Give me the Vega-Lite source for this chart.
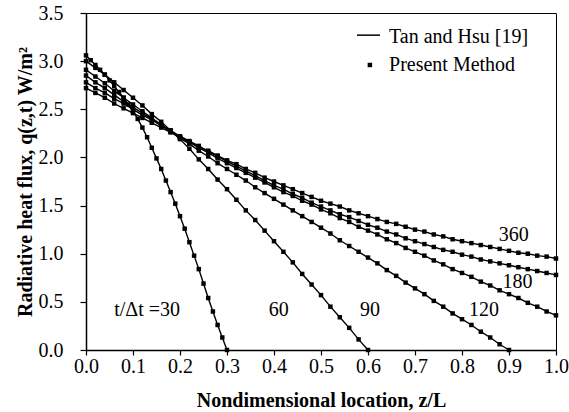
{
  "$schema": "https://vega.github.io/schema/vega-lite/v6.json",
  "width": 470,
  "height": 337,
  "autosize": "none",
  "padding": {"left": 86, "top": 13, "right": 13, "bottom": 62},
  "background": "white",
  "config": {
    "view": {"stroke": "black", "strokeWidth": 1},
    "font": "Liberation Serif",
    "axis": {
      "grid": false,
      "domainColor": "black",
      "domainWidth": 1.5,
      "tickColor": "black",
      "tickWidth": 1.2,
      "labelColor": "black",
      "labelFont": "Liberation Serif",
      "labelFontSize": 20,
      "titleColor": "black",
      "titleFont": "Liberation Serif",
      "titleFontSize": 20,
      "titleFontWeight": "bold"
    }
  },
  "datasets": {
    "flux": [
      {"t":"30","z":0,"q":3.06},{"t":"30","z":0.01,"q":3.01},{"t":"30","z":0.02,"q":2.96},{"t":"30","z":0.03,"q":2.91},{"t":"30","z":0.04,"q":2.86},{"t":"30","z":0.05,"q":2.80},{"t":"30","z":0.06,"q":2.74},{"t":"30","z":0.07,"q":2.68},{"t":"30","z":0.08,"q":2.62},{"t":"30","z":0.09,"q":2.55},{"t":"30","z":0.10,"q":2.48},{"t":"30","z":0.11,"q":2.40},{"t":"30","z":0.12,"q":2.31},{"t":"30","z":0.13,"q":2.21},{"t":"30","z":0.14,"q":2.10},{"t":"30","z":0.15,"q":1.99},{"t":"30","z":0.16,"q":1.88},{"t":"30","z":0.17,"q":1.76},{"t":"30","z":0.18,"q":1.64},{"t":"30","z":0.19,"q":1.52},{"t":"30","z":0.20,"q":1.39},{"t":"30","z":0.21,"q":1.26},{"t":"30","z":0.22,"q":1.12},{"t":"30","z":0.23,"q":0.98},{"t":"30","z":0.24,"q":0.84},{"t":"30","z":0.25,"q":0.69},{"t":"30","z":0.26,"q":0.54},{"t":"30","z":0.27,"q":0.40},{"t":"30","z":0.28,"q":0.26},{"t":"30","z":0.29,"q":0.13},{"t":"30","z":0.30,"q":0},
      {"t":"60","z":0,"q":3.00},{"t":"60","z":0.02,"q":2.93},{"t":"60","z":0.04,"q":2.86},{"t":"60","z":0.06,"q":2.78},{"t":"60","z":0.08,"q":2.70},{"t":"60","z":0.10,"q":2.62},{"t":"60","z":0.12,"q":2.54},{"t":"60","z":0.14,"q":2.45},{"t":"60","z":0.16,"q":2.37},{"t":"60","z":0.18,"q":2.28},{"t":"60","z":0.20,"q":2.19},{"t":"60","z":0.22,"q":2.09},{"t":"60","z":0.24,"q":1.98},{"t":"60","z":0.26,"q":1.88},{"t":"60","z":0.28,"q":1.77},{"t":"60","z":0.30,"q":1.67},{"t":"60","z":0.32,"q":1.56},{"t":"60","z":0.34,"q":1.45},{"t":"60","z":0.36,"q":1.35},{"t":"60","z":0.38,"q":1.24},{"t":"60","z":0.40,"q":1.13},{"t":"60","z":0.42,"q":1.02},{"t":"60","z":0.44,"q":0.91},{"t":"60","z":0.46,"q":0.79},{"t":"60","z":0.48,"q":0.68},{"t":"60","z":0.50,"q":0.57},{"t":"60","z":0.52,"q":0.45},{"t":"60","z":0.54,"q":0.34},{"t":"60","z":0.56,"q":0.23},{"t":"60","z":0.58,"q":0.11},{"t":"60","z":0.60,"q":0},
      {"t":"90","z":0,"q":2.91},{"t":"90","z":0.02,"q":2.84},{"t":"90","z":0.04,"q":2.77},{"t":"90","z":0.06,"q":2.69},{"t":"90","z":0.08,"q":2.62},{"t":"90","z":0.10,"q":2.55},{"t":"90","z":0.12,"q":2.48},{"t":"90","z":0.14,"q":2.41},{"t":"90","z":0.16,"q":2.34},{"t":"90","z":0.18,"q":2.27},{"t":"90","z":0.20,"q":2.20},{"t":"90","z":0.22,"q":2.14},{"t":"90","z":0.24,"q":2.07},{"t":"90","z":0.26,"q":2.01},{"t":"90","z":0.28,"q":1.94},{"t":"90","z":0.30,"q":1.88},{"t":"90","z":0.32,"q":1.82},{"t":"90","z":0.34,"q":1.76},{"t":"90","z":0.36,"q":1.69},{"t":"90","z":0.38,"q":1.63},{"t":"90","z":0.40,"q":1.57},{"t":"90","z":0.42,"q":1.51},{"t":"90","z":0.44,"q":1.45},{"t":"90","z":0.46,"q":1.39},{"t":"90","z":0.48,"q":1.33},{"t":"90","z":0.50,"q":1.27},{"t":"90","z":0.52,"q":1.21},{"t":"90","z":0.54,"q":1.14},{"t":"90","z":0.56,"q":1.08},{"t":"90","z":0.58,"q":1.02},{"t":"90","z":0.60,"q":0.96},{"t":"90","z":0.62,"q":0.90},{"t":"90","z":0.64,"q":0.83},{"t":"90","z":0.66,"q":0.77},{"t":"90","z":0.68,"q":0.70},{"t":"90","z":0.70,"q":0.64},{"t":"90","z":0.72,"q":0.58},{"t":"90","z":0.74,"q":0.51},{"t":"90","z":0.76,"q":0.45},{"t":"90","z":0.78,"q":0.38},{"t":"90","z":0.80,"q":0.32},{"t":"90","z":0.82,"q":0.26},{"t":"90","z":0.84,"q":0.19},{"t":"90","z":0.86,"q":0.13},{"t":"90","z":0.88,"q":0.06},{"t":"90","z":0.90,"q":0},
      {"t":"120","z":0,"q":2.85},{"t":"120","z":0.02,"q":2.78},{"t":"120","z":0.04,"q":2.72},{"t":"120","z":0.06,"q":2.65},{"t":"120","z":0.08,"q":2.58},{"t":"120","z":0.10,"q":2.52},{"t":"120","z":0.12,"q":2.46},{"t":"120","z":0.14,"q":2.40},{"t":"120","z":0.16,"q":2.33},{"t":"120","z":0.18,"q":2.27},{"t":"120","z":0.20,"q":2.21},{"t":"120","z":0.22,"q":2.16},{"t":"120","z":0.24,"q":2.10},{"t":"120","z":0.26,"q":2.05},{"t":"120","z":0.28,"q":1.99},{"t":"120","z":0.30,"q":1.94},{"t":"120","z":0.32,"q":1.89},{"t":"120","z":0.34,"q":1.84},{"t":"120","z":0.36,"q":1.79},{"t":"120","z":0.38,"q":1.74},{"t":"120","z":0.40,"q":1.69},{"t":"120","z":0.42,"q":1.64},{"t":"120","z":0.44,"q":1.60},{"t":"120","z":0.46,"q":1.55},{"t":"120","z":0.48,"q":1.51},{"t":"120","z":0.50,"q":1.46},{"t":"120","z":0.52,"q":1.42},{"t":"120","z":0.54,"q":1.37},{"t":"120","z":0.56,"q":1.33},{"t":"120","z":0.58,"q":1.28},{"t":"120","z":0.60,"q":1.24},{"t":"120","z":0.62,"q":1.20},{"t":"120","z":0.64,"q":1.15},{"t":"120","z":0.66,"q":1.11},{"t":"120","z":0.68,"q":1.06},{"t":"120","z":0.70,"q":1.02},{"t":"120","z":0.72,"q":0.98},{"t":"120","z":0.74,"q":0.93},{"t":"120","z":0.76,"q":0.89},{"t":"120","z":0.78,"q":0.84},{"t":"120","z":0.80,"q":0.80},{"t":"120","z":0.82,"q":0.76},{"t":"120","z":0.84,"q":0.71},{"t":"120","z":0.86,"q":0.67},{"t":"120","z":0.88,"q":0.62},{"t":"120","z":0.90,"q":0.58},{"t":"120","z":0.92,"q":0.54},{"t":"120","z":0.94,"q":0.49},{"t":"120","z":0.96,"q":0.45},{"t":"120","z":0.98,"q":0.40},{"t":"120","z":1.00,"q":0.36},
      {"t":"180","z":0,"q":2.78},{"t":"180","z":0.02,"q":2.72},{"t":"180","z":0.04,"q":2.67},{"t":"180","z":0.06,"q":2.61},{"t":"180","z":0.08,"q":2.56},{"t":"180","z":0.10,"q":2.50},{"t":"180","z":0.12,"q":2.44},{"t":"180","z":0.14,"q":2.39},{"t":"180","z":0.16,"q":2.33},{"t":"180","z":0.18,"q":2.28},{"t":"180","z":0.20,"q":2.22},{"t":"180","z":0.22,"q":2.17},{"t":"180","z":0.24,"q":2.12},{"t":"180","z":0.26,"q":2.06},{"t":"180","z":0.28,"q":2.01},{"t":"180","z":0.30,"q":1.96},{"t":"180","z":0.32,"q":1.91},{"t":"180","z":0.34,"q":1.86},{"t":"180","z":0.36,"q":1.81},{"t":"180","z":0.38,"q":1.76},{"t":"180","z":0.40,"q":1.71},{"t":"180","z":0.42,"q":1.67},{"t":"180","z":0.44,"q":1.62},{"t":"180","z":0.46,"q":1.58},{"t":"180","z":0.48,"q":1.53},{"t":"180","z":0.50,"q":1.49},{"t":"180","z":0.52,"q":1.45},{"t":"180","z":0.54,"q":1.41},{"t":"180","z":0.56,"q":1.38},{"t":"180","z":0.58,"q":1.34},{"t":"180","z":0.60,"q":1.30},{"t":"180","z":0.62,"q":1.27},{"t":"180","z":0.64,"q":1.23},{"t":"180","z":0.66,"q":1.20},{"t":"180","z":0.68,"q":1.16},{"t":"180","z":0.70,"q":1.13},{"t":"180","z":0.72,"q":1.10},{"t":"180","z":0.74,"q":1.07},{"t":"180","z":0.76,"q":1.04},{"t":"180","z":0.78,"q":1.02},{"t":"180","z":0.80,"q":0.99},{"t":"180","z":0.82,"q":0.97},{"t":"180","z":0.84,"q":0.94},{"t":"180","z":0.86,"q":0.92},{"t":"180","z":0.88,"q":0.90},{"t":"180","z":0.90,"q":0.88},{"t":"180","z":0.92,"q":0.86},{"t":"180","z":0.94,"q":0.84},{"t":"180","z":0.96,"q":0.82},{"t":"180","z":0.98,"q":0.80},{"t":"180","z":1.00,"q":0.78},
      {"t":"360","z":0,"q":2.72},{"t":"360","z":0.02,"q":2.67},{"t":"360","z":0.04,"q":2.62},{"t":"360","z":0.06,"q":2.56},{"t":"360","z":0.08,"q":2.51},{"t":"360","z":0.10,"q":2.46},{"t":"360","z":0.12,"q":2.41},{"t":"360","z":0.14,"q":2.36},{"t":"360","z":0.16,"q":2.31},{"t":"360","z":0.18,"q":2.26},{"t":"360","z":0.20,"q":2.21},{"t":"360","z":0.22,"q":2.16},{"t":"360","z":0.24,"q":2.11},{"t":"360","z":0.26,"q":2.07},{"t":"360","z":0.28,"q":2.02},{"t":"360","z":0.30,"q":1.97},{"t":"360","z":0.32,"q":1.93},{"t":"360","z":0.34,"q":1.88},{"t":"360","z":0.36,"q":1.84},{"t":"360","z":0.38,"q":1.79},{"t":"360","z":0.40,"q":1.75},{"t":"360","z":0.42,"q":1.71},{"t":"360","z":0.44,"q":1.67},{"t":"360","z":0.46,"q":1.63},{"t":"360","z":0.48,"q":1.59},{"t":"360","z":0.50,"q":1.55},{"t":"360","z":0.52,"q":1.52},{"t":"360","z":0.54,"q":1.49},{"t":"360","z":0.56,"q":1.45},{"t":"360","z":0.58,"q":1.42},{"t":"360","z":0.60,"q":1.39},{"t":"360","z":0.62,"q":1.36},{"t":"360","z":0.64,"q":1.33},{"t":"360","z":0.66,"q":1.31},{"t":"360","z":0.68,"q":1.28},{"t":"360","z":0.70,"q":1.25},{"t":"360","z":0.72,"q":1.23},{"t":"360","z":0.74,"q":1.20},{"t":"360","z":0.76,"q":1.18},{"t":"360","z":0.78,"q":1.15},{"t":"360","z":0.80,"q":1.13},{"t":"360","z":0.82,"q":1.11},{"t":"360","z":0.84,"q":1.09},{"t":"360","z":0.86,"q":1.07},{"t":"360","z":0.88,"q":1.05},{"t":"360","z":0.90,"q":1.03},{"t":"360","z":0.92,"q":1.01},{"t":"360","z":0.94,"q":1.00},{"t":"360","z":0.96,"q":0.98},{"t":"360","z":0.98,"q":0.97},{"t":"360","z":1.00,"q":0.95}
    ],
    "labels": [
      {"label":"t/Δt =30","z":0.13,"q":0.415},
      {"label":"60","z":0.41,"q":0.415},
      {"label":"90","z":0.604,"q":0.415},
      {"label":"120","z":0.847,"q":0.415},
      {"label":"180","z":0.918,"q":0.71},
      {"label":"360","z":0.91,"q":1.194}
    ],
    "legendItems": [
      {"label":"Tan and Hsu [19]","z":0.6447,"q":3.25},
      {"label":"Present Method","z":0.6447,"q":2.96}
    ]
  },
  "layer": [
    {
      "data": {"name": "flux"},
      "mark": {"type": "line", "color": "black", "strokeWidth": 1.4},
      "encoding": {
        "x": {
          "field": "z", "type": "quantitative",
          "scale": {"domain": [0, 1], "nice": false},
          "axis": {
            "title": "Nondimensional location, z/L",
            "values": [0, 0.1, 0.2, 0.3, 0.4, 0.5, 0.6, 0.7, 0.8, 0.9, 1.0],
            "format": ".1f",
            "tickSize": 5,
            "labelPadding": 1,
            "titlePadding": 14,
            "labelFlush": false,
            "labelOverlap": false
          }
        },
        "y": {
          "field": "q", "type": "quantitative",
          "scale": {"domain": [0, 3.5], "nice": false},
          "axis": {
            "title": "Radiative heat flux, q(z,t) W/m²",
            "values": [0, 0.5, 1.0, 1.5, 2.0, 2.5, 3.0, 3.5],
            "format": ".1f",
            "tickSize": 6,
            "labelPadding": 17,
            "titlePadding": 3,
            "labelFlush": false,
            "labelOverlap": false
          }
        },
        "detail": {"field": "t", "type": "nominal"}
      }
    },
    {
      "data": {"name": "flux"},
      "mark": {"type": "point", "filled": true, "shape": "square", "color": "black", "opacity": 1, "size": 20},
      "encoding": {
        "x": {"field": "z", "type": "quantitative"},
        "y": {"field": "q", "type": "quantitative"}
      }
    },
    {
      "data": {"name": "labels"},
      "mark": {"type": "text", "font": "Liberation Serif", "fontSize": 20, "color": "black", "align": "center", "baseline": "middle"},
      "encoding": {
        "x": {"field": "z", "type": "quantitative"},
        "y": {"field": "q", "type": "quantitative"},
        "text": {"field": "label"}
      }
    },
    {
      "data": {"values": [{}]},
      "mark": {"type": "rule", "color": "black", "strokeWidth": 1.5},
      "encoding": {
        "x": {"datum": 0.5766},
        "x2": {"datum": 0.6255},
        "y": {"datum": 3.27}
      }
    },
    {
      "data": {"values": [{}]},
      "mark": {"type": "point", "filled": true, "shape": "square", "color": "black", "opacity": 1, "size": 20},
      "encoding": {
        "x": {"datum": 0.604},
        "y": {"datum": 2.96}
      }
    },
    {
      "data": {"name": "legendItems"},
      "mark": {"type": "text", "font": "Liberation Serif", "fontSize": 20, "color": "black", "align": "left", "baseline": "middle"},
      "encoding": {
        "x": {"field": "z", "type": "quantitative"},
        "y": {"field": "q", "type": "quantitative"},
        "text": {"field": "label"}
      }
    }
  ]
}
